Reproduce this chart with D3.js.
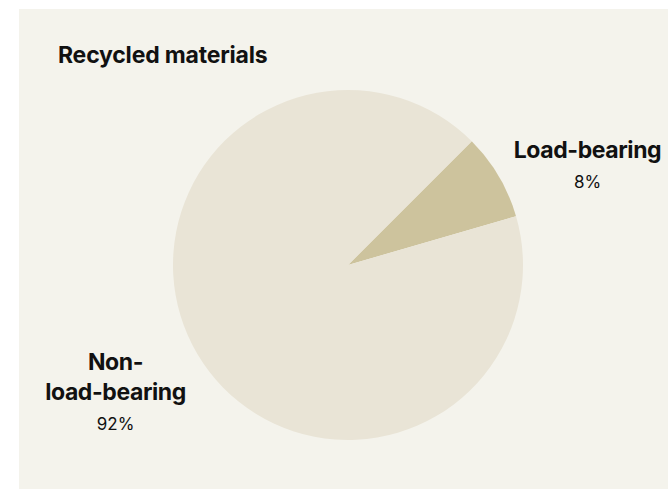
<!DOCTYPE html>
<html><head><meta charset="utf-8">
<script src="https://cdn.jsdelivr.net/npm/d3@7"></script>
<style>
html,body{margin:0;padding:0;background:#fff;}
svg{display:block;font-family:Inter,"Noto Sans",sans-serif;}
</style></head>
<body>
<svg id="chart" width="668" height="489"></svg>
<script>
const title = "Recycled materials";
const categories = ["Load-bearing", "Non-load-bearing"];
const labelLines = [["Load-bearing"], ["Non-", "load-bearing"]];
const values = [8, 92];
const colors = ["#cdc39d", "#e9e4d6"];

const svg = d3.select("#chart");
const W = 668, H = 489;
svg.append("rect").attr("x", 19).attr("y", 9).attr("width", W - 19).attr("height", H - 9).attr("fill", "#f4f3ec");

svg.append("text").attr("x", 58).attr("y", 63)
  .attr("font-size", 23).attr("font-weight", 700).attr("letter-spacing", -0.2)
  .attr("fill", "#111").text(title);

const cx = 348, cy = 265, r = 175;
const g = svg.append("g").attr("transform", `translate(${cx},${cy})`);
const pie = d3.pie().sort(null).value(d => d).startAngle(Math.PI / 4).endAngle(Math.PI / 4 + 2 * Math.PI);
const arcs = pie(values);
const arc = d3.arc().innerRadius(0).outerRadius(r);
g.selectAll("path").data(arcs).join("path").attr("d", arc).attr("fill", (d, i) => colors[i]);

// label anchors: polar position beyond the outer edge
const labelArc = d3.arc().innerRadius(255).outerRadius(255);
const shift = [[20, 46], [-13, 13]];
arcs.forEach((d, i) => {
  const [x0, y0] = labelArc.centroid(d);
  const lines = labelLines[i];
  const x = x0 + shift[i][0];
  const yTop = y0 + shift[i][1] - 30 * (lines.length) / 2 - 8;
  const t = g.append("text").attr("text-anchor", "middle").attr("fill", "#111");
  lines.forEach((ln, j) => {
    t.append("tspan").attr("x", x).attr("y", yTop + 30 * j)
      .attr("font-size", 23).attr("font-weight", 700).attr("letter-spacing", -0.4).text(ln);
  });
  t.append("tspan").attr("x", x).attr("y", yTop + 30 * lines.length)
    .attr("font-size", 17).attr("font-weight", 400).text(values[i] + "%");
});
</script>
</body></html>
